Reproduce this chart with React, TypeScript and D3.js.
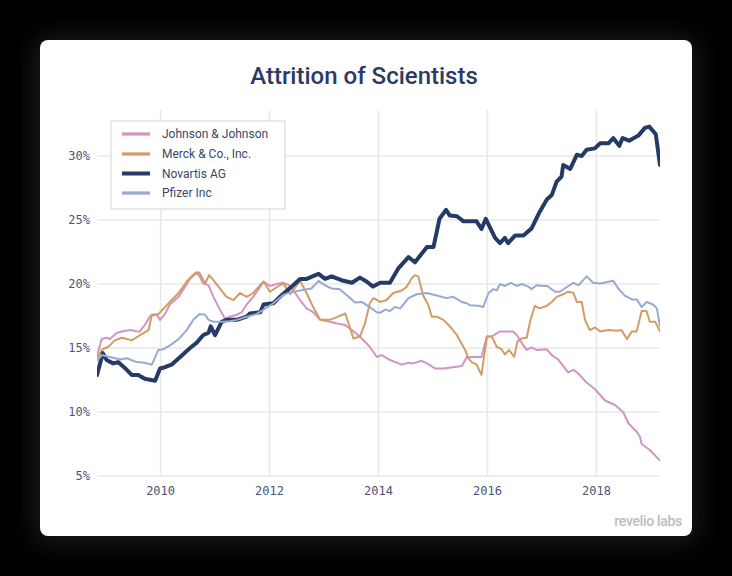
import React from "react";
import * as d3 from "d3";

const TITLE = "Attrition of Scientists";
const SERIES_NAMES = ["Johnson & Johnson", "Merck & Co., Inc.", "Novartis AG", "Pfizer Inc"];
const SERIES_COLORS = ["#d194c3", "#d49c62", "#253a65", "#98aad2"];
const SERIES_WIDTHS = [2, 2, 4, 2];
const X_TICKS = [2010, 2012, 2014, 2016, 2018];
const Y_TICKS = [5, 10, 15, 20, 25, 30];
const LOGO = "revelio labs";

// [decimal year, attrition %]
const jnjData: [number, number][] = [
  [2008.833, 14.4], [2008.92, 15.7], [2009.01, 15.8], [2009.07, 15.7], [2009.2, 16.2], [2009.35, 16.35],
  [2009.47, 16.4], [2009.56, 16.3], [2009.62, 16.3], [2009.71, 16.8], [2009.81, 17.5], [2009.93, 17.6],
  [2009.99, 17.2], [2010.08, 17.65], [2010.17, 18.4], [2010.33, 19.0], [2010.45, 19.8], [2010.54, 20.4],
  [2010.66, 20.9], [2010.72, 20.6], [2010.78, 20.05], [2010.88, 19.9], [2010.97, 19.0], [2011.09, 18.0],
  [2011.18, 17.3], [2011.27, 17.45], [2011.4, 17.6], [2011.49, 17.8], [2011.58, 18.4], [2011.7, 19.0],
  [2011.83, 19.8], [2011.89, 20.2], [2012.01, 19.85], [2012.13, 20.0], [2012.25, 20.1], [2012.38, 19.85],
  [2012.56, 18.75], [2012.68, 18.1], [2012.8, 17.8], [2012.93, 17.2], [2013.11, 17.05], [2013.26, 16.9],
  [2013.39, 16.8], [2013.51, 16.4], [2013.66, 15.9], [2013.84, 15.1], [2013.97, 14.3], [2014.06, 14.45],
  [2014.21, 14.06], [2014.43, 13.7], [2014.55, 13.85], [2014.64, 13.8], [2014.79, 14.0], [2014.89, 13.8],
  [2015.04, 13.4], [2015.19, 13.4], [2015.37, 13.5], [2015.53, 13.6], [2015.62, 14.3], [2015.71, 14.3],
  [2015.89, 14.3], [2015.99, 15.9], [2016.08, 15.9], [2016.23, 16.3], [2016.47, 16.3], [2016.54, 16.0],
  [2016.63, 15.4], [2016.72, 14.85], [2016.81, 15.05], [2016.9, 14.85], [2017.09, 14.9], [2017.18, 14.45],
  [2017.3, 14.1], [2017.48, 13.1], [2017.58, 13.3], [2017.67, 13.0], [2017.82, 12.3], [2017.97, 11.8],
  [2018.16, 10.9], [2018.34, 10.55], [2018.49, 10.0], [2018.59, 9.1], [2018.74, 8.46], [2018.8, 8.07],
  [2018.83, 7.5], [2018.98, 7.03], [2019.167, 6.2],
];

const merckData: [number, number][] = [
  [2008.833, 14.2], [2008.92, 14.85], [2009.04, 15.1], [2009.16, 15.6], [2009.29, 15.8], [2009.47, 15.6],
  [2009.62, 16.0], [2009.78, 16.4], [2009.84, 17.6], [2009.96, 17.65], [2010.08, 18.2], [2010.17, 18.6],
  [2010.33, 19.3], [2010.48, 20.2], [2010.57, 20.6], [2010.65, 20.9], [2010.71, 20.9], [2010.82, 20.05],
  [2010.89, 20.7], [2010.97, 20.3], [2011.09, 19.65], [2011.21, 19.0], [2011.34, 18.75], [2011.46, 19.3],
  [2011.58, 19.0], [2011.7, 19.3], [2011.89, 20.2], [2012.01, 19.4], [2012.13, 19.75], [2012.25, 20.05],
  [2012.38, 19.2], [2012.56, 20.25], [2012.68, 19.3], [2012.8, 18.2], [2012.93, 17.2], [2013.11, 17.2],
  [2013.26, 17.45], [2013.39, 17.7], [2013.54, 15.75], [2013.66, 15.9], [2013.75, 16.9], [2013.84, 18.5],
  [2013.91, 18.9], [2014.03, 18.6], [2014.15, 18.75], [2014.27, 19.3], [2014.43, 19.5], [2014.52, 19.8],
  [2014.61, 20.45], [2014.67, 20.7], [2014.73, 20.6], [2014.82, 19.1], [2014.91, 18.4], [2014.98, 17.45],
  [2015.07, 17.45], [2015.19, 17.2], [2015.31, 16.7], [2015.44, 16.0], [2015.59, 14.85], [2015.65, 14.2],
  [2015.71, 13.9], [2015.8, 13.7], [2015.89, 12.9], [2015.99, 15.9], [2016.08, 15.9], [2016.17, 15.1],
  [2016.26, 14.9], [2016.32, 14.5], [2016.4, 14.85], [2016.49, 14.3], [2016.55, 15.5], [2016.63, 15.75],
  [2016.72, 15.8], [2016.79, 17.2], [2016.87, 18.3], [2016.96, 18.1], [2017.09, 18.3], [2017.18, 18.6],
  [2017.27, 19.0], [2017.39, 19.2], [2017.48, 19.4], [2017.58, 19.3], [2017.64, 18.6], [2017.73, 18.6],
  [2017.79, 17.2], [2017.88, 16.4], [2017.97, 16.6], [2018.07, 16.3], [2018.22, 16.4], [2018.37, 16.35],
  [2018.46, 16.4], [2018.56, 15.7], [2018.65, 16.3], [2018.74, 16.3], [2018.83, 17.9], [2018.92, 17.9],
  [2018.98, 17.05], [2019.08, 17.05], [2019.167, 16.3],
];

const novartisData: [number, number][] = [
  [2008.833, 12.9], [2008.94, 14.6], [2009.01, 14.06], [2009.13, 13.8], [2009.22, 13.9], [2009.38, 13.3],
  [2009.47, 12.9], [2009.59, 12.9], [2009.71, 12.6], [2009.9, 12.45], [2009.99, 13.4], [2010.08, 13.5],
  [2010.2, 13.7], [2010.36, 14.3], [2010.54, 15.0], [2010.66, 15.4], [2010.78, 16.0], [2010.88, 16.2],
  [2010.92, 16.7], [2011.0, 16.0], [2011.12, 17.05], [2011.21, 17.2], [2011.4, 17.2], [2011.58, 17.45],
  [2011.64, 17.7], [2011.83, 17.8], [2011.89, 18.4], [2012.07, 18.5], [2012.19, 19.0], [2012.38, 19.7],
  [2012.56, 20.4], [2012.68, 20.4], [2012.9, 20.8], [2013.02, 20.4], [2013.14, 20.6], [2013.32, 20.3],
  [2013.51, 20.1], [2013.66, 20.5], [2013.78, 20.2], [2013.9, 19.8], [2014.03, 20.1], [2014.21, 20.1],
  [2014.36, 21.2], [2014.55, 22.1], [2014.67, 21.7], [2014.89, 22.9], [2015.01, 22.9], [2015.12, 25.1],
  [2015.24, 25.8], [2015.31, 25.35], [2015.44, 25.3], [2015.56, 24.9], [2015.8, 24.9], [2015.89, 24.3],
  [2015.97, 25.1], [2016.14, 23.6], [2016.23, 23.2], [2016.32, 23.6], [2016.38, 23.2], [2016.51, 23.8],
  [2016.66, 23.8], [2016.81, 24.35], [2016.96, 25.65], [2017.09, 26.6], [2017.18, 26.95], [2017.27, 28.0],
  [2017.36, 28.4], [2017.39, 29.3], [2017.52, 29.0], [2017.64, 30.1], [2017.73, 30.0], [2017.82, 30.5],
  [2017.97, 30.6], [2018.07, 31.0], [2018.22, 31.0], [2018.31, 31.4], [2018.42, 30.8], [2018.48, 31.4],
  [2018.6, 31.2], [2018.77, 31.6], [2018.89, 32.2], [2018.97, 32.3], [2019.09, 31.7], [2019.167, 29.3],
];

const pfizerData: [number, number][] = [
  [2008.833, 14.0], [2008.92, 14.45], [2009.07, 14.3], [2009.26, 14.1], [2009.38, 14.2], [2009.56, 13.9],
  [2009.71, 13.85], [2009.84, 13.7], [2009.96, 14.85], [2010.05, 14.9], [2010.17, 15.2], [2010.33, 15.7],
  [2010.48, 16.4], [2010.6, 17.2], [2010.72, 17.65], [2010.82, 17.6], [2010.88, 17.2], [2010.97, 17.05],
  [2011.15, 17.05], [2011.27, 17.1], [2011.4, 17.2], [2011.58, 17.45], [2011.76, 17.65], [2011.89, 18.0],
  [2012.07, 18.5], [2012.25, 19.15], [2012.38, 19.35], [2012.56, 19.5], [2012.77, 19.65], [2012.9, 20.25],
  [2013.02, 19.9], [2013.14, 19.65], [2013.29, 19.6], [2013.45, 19.0], [2013.57, 18.55], [2013.69, 18.6],
  [2013.84, 18.2], [2013.97, 17.8], [2014.03, 17.75], [2014.12, 18.0], [2014.21, 17.9], [2014.3, 18.2],
  [2014.4, 18.1], [2014.55, 18.9], [2014.7, 19.2], [2014.89, 19.3], [2015.07, 19.1], [2015.25, 18.9],
  [2015.37, 19.0], [2015.53, 18.6], [2015.62, 18.5], [2015.68, 18.35], [2015.83, 18.3], [2015.92, 18.2],
  [2016.02, 19.3], [2016.11, 19.6], [2016.17, 19.5], [2016.23, 20.0], [2016.32, 19.85], [2016.43, 20.1],
  [2016.54, 19.85], [2016.63, 20.0], [2016.75, 19.8], [2016.81, 19.6], [2016.9, 19.9], [2017.03, 19.85],
  [2017.1, 19.85], [2017.24, 19.4], [2017.33, 19.4], [2017.45, 19.75], [2017.58, 20.1], [2017.67, 19.9],
  [2017.82, 20.6], [2017.94, 20.1], [2018.07, 20.05], [2018.31, 20.25], [2018.4, 19.65], [2018.52, 19.1],
  [2018.65, 18.8], [2018.74, 18.8], [2018.83, 18.2], [2018.92, 18.6], [2019.04, 18.4], [2019.11, 18.1],
  [2019.167, 16.7],
];

const SERIES_DATA = [jnjData, merckData, novartisData, pfizerData];

const W = 732;
const H = 576;

export default function App() {
  const x = d3.scaleLinear().domain([2008.833, 2019.167]).range([97, 660]);
  const y = d3.scaleLinear().domain([5, 33.6]).range([476, 110]);
  const line = d3
    .line<[number, number]>()
    .x((d) => x(d[0]))
    .y((d) => y(d[1]))
    .curve(d3.curveLinear);

  const mono = "'DejaVu Sans Mono', monospace";
  const sans = "Roboto, 'Noto Sans', sans-serif";
  const tickColor = "#4b5573";
  const gridColor = "#e8e8e8";

  const legendX = 111;
  const legendY = 121;
  const legendRows = [134, 154, 173.5, 193];

  return (
    <div style={{ position: "fixed", left: 0, top: 0, width: W, height: H, background: "#000" }}>
      <svg width={W} height={H} style={{ display: "block" }}>
        <defs>
          <filter id="shadow" x="-10%" y="-10%" width="120%" height="120%">
            <feGaussianBlur stdDeviation="12" />
          </filter>
          <clipPath id="plotclip">
            <rect x={x.range()[0]} y={100} width={x.range()[1] - x.range()[0]} height={390} />
          </clipPath>
        </defs>
        <rect x={0} y={0} width={W} height={H} fill="#000" />
        <rect x={34} y={36} width={664} height={508} rx={14} fill="#3a3a3a" opacity={0.45} filter="url(#shadow)" />
        <rect x={40} y={40} width={652} height={496} rx={8} fill="#ffffff" />

        <text
          x={364}
          y={84}
          textAnchor="middle"
          fontFamily={sans}
          fontWeight={500}
          fontSize={24}
          fill="#2b3b62"
        >
          {TITLE}
        </text>

        {/* grid */}
        <g>
          {Y_TICKS.map((t) => (
            <line key={"gy" + t} x1={x.range()[0]} x2={x.range()[1]} y1={y(t)} y2={y(t)} stroke={gridColor} strokeWidth={1.6} />
          ))}
          {X_TICKS.map((t) => (
            <line key={"gx" + t} x1={x(t)} x2={x(t)} y1={y.range()[1]} y2={y.range()[0]} stroke={gridColor} strokeWidth={1.6} />
          ))}
        </g>

        {/* y tick labels */}
        {Y_TICKS.map((t) => (
          <text key={"ty" + t} x={90} y={y(t)} dy="0.35em" textAnchor="end" fontFamily={mono} fontSize={12} fill={tickColor}>
            {t + "%"}
          </text>
        ))}
        {/* x tick labels */}
        {X_TICKS.map((t) => (
          <text key={"tx" + t} x={x(t)} y={495} textAnchor="middle" fontFamily={mono} fontSize={12} fill={tickColor}>
            {String(t)}
          </text>
        ))}

        {/* lines */}
        <g clipPath="url(#plotclip)">
          {SERIES_DATA.map((d, i) => (
            <path
              key={SERIES_NAMES[i]}
              d={line(d) || ""}
              fill="none"
              stroke={SERIES_COLORS[i]}
              strokeWidth={SERIES_WIDTHS[i]}
              strokeLinejoin="round"
              strokeLinecap="round"
            />
          ))}
        </g>

        {/* legend */}
        <rect x={legendX} y={legendY} width={174} height={88} fill="#fff" stroke="#e2e2e2" strokeWidth={1.5} />
        {SERIES_NAMES.map((name, i) => (
          <g key={"lg" + name}>
            <line x1={122} x2={150} y1={legendRows[i]} y2={legendRows[i]} stroke={SERIES_COLORS[i]} strokeWidth={i === 2 ? 4 : 3.2} />
            <text x={162} y={legendRows[i]} dy="0.35em" fontFamily={sans} fontSize={12} fill="#3a4668">
              {name}
            </text>
          </g>
        ))}

        {/* logo */}
        <text x={682} y={526} textAnchor="end" fontFamily={sans} fontSize={14} fontWeight={500} fill="#bdbdbd" letterSpacing={-0.3}>
          {LOGO}
        </text>
      </svg>
    </div>
  );
}
